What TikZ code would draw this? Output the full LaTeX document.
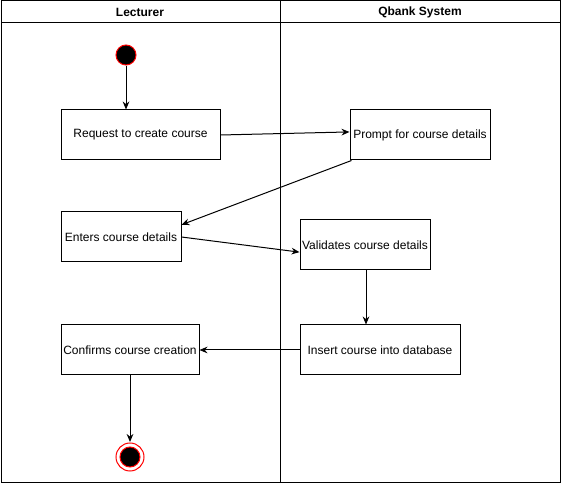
\documentclass[tikz,border=0pt]{standalone}
\usepackage{fontspec}
\setmainfont{Liberation Sans}
\usetikzlibrary{arrows.meta,calc}

\tikzset{every picture/.style={line width=0.75pt}}
\tikzset{
	actbox/.style={draw, fill=white, inner sep=0pt, minimum height=37.5pt, font=\fontsize{9}{11}\selectfont},
	lanehead/.style={font=\bfseries\fontsize{9}{11}\selectfont},
	flow/.style={-{Stealth[length=6pt,width=5pt]}}
}

\begin{document}
\begin{tikzpicture}[x=0.75pt,y=0.75pt,yscale=-1,xscale=1]
	\useasboundingbox (0,0) rectangle (561,484);

	%Shape: Pool [id:lanes]
	\draw (1,1) rectangle (560,483);
	\draw (1,23) -- (560,23);
	\draw (280,1) -- (280,483);
	% Text Node
	\node [lanehead] (lecturer) at (140,12) {Lecturer};
	% Text Node
	\node [lanehead] (qbank) at (420,12) {Qbank System};

	%Shape: Start [id:start]
	\draw [draw=red, fill=black] (126,55) circle [radius=10];
	\coordinate (startb) at (126,66);
	%Shape: End [id:final]
	\draw [draw=red, fill=white] (130,457) circle [radius=14];
	\draw [draw=red, fill=black] (130,457) circle [radius=10];
	\coordinate (finalt) at (130,442);

	% Activity Nodes
	\node [actbox, minimum width=119.25pt] (request) at (140.5,135) {Request to create course};
	\node [actbox, minimum width=105pt] (prompt) at (420,135) {Prompt for course details};
	\node [actbox, minimum width=90pt] (enters) at (121,237) {Enters course details};
	\node [actbox, minimum width=97.5pt] (validates) at (365,245) {Validates course details};
	\node [actbox, minimum width=120pt] (insert) at (380,350) {Insert course into database};
	\node [actbox, minimum width=103.5pt] (confirms) at (130,350) {Confirms course creation};

	% Flows
	\draw [flow] (startb) -- (request.north -| startb);
	\draw [flow] (request.east) -- ($(prompt.north west)!0.44!(prompt.south west)$);
	\draw [flow] ([xshift=1.5pt]prompt.south west) -- ($(enters.north east)!0.26!(enters.south east)$);
	\draw [flow] (enters.east) -- ($(validates.north west)!0.64!(validates.south west)$);
	\draw [flow] (validates.south -| 366,0) -- (insert.north -| 366,0);
	\draw [flow] (insert.west) -- (confirms.east);
	\draw [flow] (confirms.south) -- (finalt);

\end{tikzpicture}
\end{document}
